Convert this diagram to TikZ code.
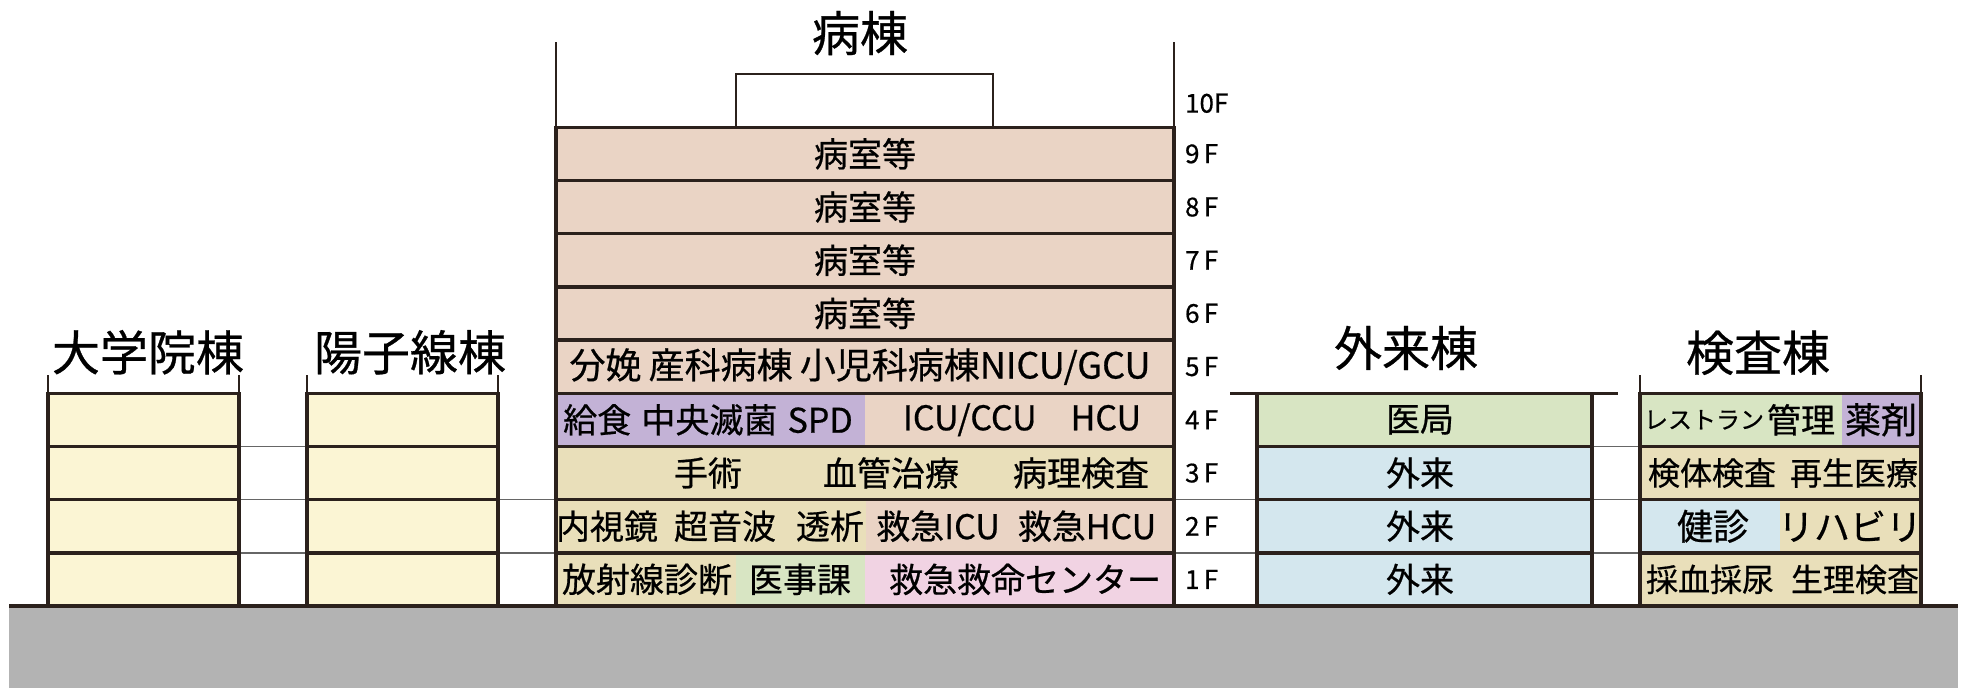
\documentclass[tikz,border=0pt]{standalone}
\usepackage{fontspec}
\setmainfont{Noto Sans CJK JP}[FakeBold=0.6, AutoFakeBold=0.6]

\definecolor{trait}{HTML}{2B211C}
\definecolor{chambre}{HTML}{EAD4C5}
\definecolor{lavande}{HTML}{C3B2D6}
\definecolor{kaki}{HTML}{E9DFBA}
\definecolor{vertclair}{HTML}{D8E5C3}
\definecolor{roseclair}{HTML}{F1D3E3}
\definecolor{bleuclair}{HTML}{D4E7EE}
\definecolor{jaunepale}{HTML}{FBF5D4}
\definecolor{sol}{HTML}{B3B3B3}

\begin{document}
\begin{tikzpicture}[x=0.5pt, y=26.6pt,
    salle/.style={font=\fontsize{17}{20}\selectfont},
    titre/.style={font=\fontsize{24}{28}\selectfont},
    etage/.style={anchor=west, font=\fontsize{13}{15}\selectfont},
    cadre/.style={draw=trait, line width=1.7pt},
    liaison/.style={draw=gray!80!black, line width=0.7pt}]

  \useasboundingbox (0,-1.5414) rectangle (1968,11.391);

  % Le sol.
  \fill[sol] (9,-1.5414) rectangle (1958,0);

  % Passerelles entre les bâtiments.
  \foreach \k in {1,2,3} {
    \draw[liaison] (239,\k) -- (307,\k);
    \draw[liaison] (1592,\k) -- (1640,\k);
  }
  \foreach \k in {1,2} {
    \draw[liaison] (498,\k) -- (556,\k);
    \draw[liaison] (1174,\k) -- (1257,\k);
  }

  % 大学院棟 et 陽子線棟 : quatre étages.
  \foreach \xa/\xb in {48/239, 307/498} {
    \foreach \k in {0,...,3}
      \filldraw[cadre, fill=jaunepale] (\xa,\k) rectangle (\xb,\k+1);
    \draw[trait, line width=1pt] (\xa,4) -- (\xa,4.34) (\xb,4) -- (\xb,4.34);
  }
  \node[titre] (daigakuin) at (148,4.77) {大学院棟};
  \node[titre] (yoshisen) at (410,4.77) {陽子線棟};

  % 病棟 : les couleurs d'abord, puis les contours.
  \fill[chambre] (556,4) rectangle (1174,9);
  \fill[lavande] (556,3) rectangle (865,4);
  \fill[chambre] (865,3) rectangle (1174,4);
  \fill[kaki] (556,2) rectangle (1174,3);
  \fill[kaki] (556,1) rectangle (866,2);
  \fill[chambre] (866,1) rectangle (1174,2);
  \fill[kaki] (556,0) rectangle (736,1);
  \fill[vertclair] (736,0) rectangle (865,1);
  \fill[roseclair] (865,0) rectangle (1174,1);
  \foreach \k in {0,...,8}
    \draw[cadre] (556,\k) rectangle (1174,\k+1);
  \draw[cadre, line width=1.2pt, fill=white] (736,9) rectangle (993,10);
  \draw[trait, line width=1pt] (556,9) -- (556,10.6) (1174,9) -- (1174,10.6);
  \node[titre] (byoto) at (860,10.77) {病棟};

  \foreach \k in {5,...,8}
    \node[salle] (byoshitsu\k) at (865,\k+0.5) {病室等};
  \node[salle, font=\fontsize{18}{20}\selectfont] (go) at (860,4.5)
       {分娩\hspace{0.2em}産科病棟\hspace{0.2em}小児科病棟NICU/GCU};
  \node[salle] (kyushoku) at (708,3.5) {給食\hspace{0.3em}中央滅菌\hspace{0.3em}SPD};
  \node[salle] (icu) at (1022,3.5) {ICU/CCU\hspace{1em}HCU};
  \node[salle] (shujutsu) at (708,2.5) {手術};
  \node[salle] (kekkan) at (891,2.5) {血管治療};
  \node[salle] (byori) at (1081,2.5) {病理検査};
  \node[salle] (naishi) at (607,1.5) {内視鏡};
  \node[salle] (choonpa) at (725,1.5) {超音波};
  \node[salle] (toseki) at (830,1.5) {透析};
  \node[salle] (kicu) at (938,1.5) {救急ICU};
  \node[salle] (khcu) at (1087,1.5) {救急HCU};
  \node[salle] (hoshasen) at (647,0.5) {放射線診断};
  \node[salle] (iji) at (800,0.5) {医事課};
  \node[salle] (kyumei) at (1025,0.5) {救急救命センター};

  % Numéros d'étage.
  \foreach \k in {1,...,9}
    \node[etage] (f\k) at (1178,\k-0.5) {\k\,F};
  \node[etage] (f10) at (1178,9.45) {10F};

  % 外来棟.
  \fill[vertclair] (1257,3) rectangle (1592,4);
  \fill[bleuclair] (1257,0) rectangle (1592,3);
  \foreach \k in {0,...,3}
    \draw[cadre] (1257,\k) rectangle (1592,\k+1);
  \draw[trait, line width=1.7pt] (1230,4) -- (1618,4);
  \node[titre] (gairaito) at (1406,4.85) {外来棟};
  \node[salle] (ikyoku) at (1420,3.5) {医局};
  \foreach \k in {0,1,2}
    \node[salle] (gairai\k) at (1420,\k+0.5) {外来};

  % 検査棟.
  \fill[vertclair] (1640,3) rectangle (1842,4);
  \fill[lavande] (1842,3) rectangle (1921,4);
  \fill[kaki] (1640,2) rectangle (1921,3);
  \fill[bleuclair] (1640,1) rectangle (1780,2);
  \fill[kaki] (1780,1) rectangle (1921,2);
  \fill[kaki] (1640,0) rectangle (1921,1);
  \foreach \k in {0,...,3}
    \draw[cadre] (1640,\k) rectangle (1921,\k+1);
  \draw[trait, line width=1pt] (1640,4) -- (1640,4.34) (1921,4) -- (1921,4.34);
  \node[titre] (kensato) at (1758,4.76) {検査棟};
  \node[font=\fontsize{12}{14}\selectfont] (restaurant) at (1704,3.5) {レストラン};
  \node[salle] (kanri) at (1801,3.5) {管理};
  \node[font=\fontsize{18}{20}\selectfont] (yakuzai) at (1881,3.5) {薬剤};
  \node[font=\fontsize{16}{19}\selectfont] (kentai) at (1712,2.5) {検体検査};
  \node[font=\fontsize{16}{19}\selectfont] (saisei) at (1854,2.5) {再生医療};
  \node[font=\fontsize{18}{20}\selectfont] (kenshin) at (1713,1.5) {健診};
  \node[font=\fontsize{18}{20}\selectfont] (riha) at (1850,1.5) {リハビリ};
  \node[font=\fontsize{16}{19}\selectfont] (saiketsu) at (1710,0.5) {採血採尿};
  \node[font=\fontsize{16}{19}\selectfont] (seiri) at (1855,0.5) {生理検査};

  % Ligne du sol.
  \draw[trait, line width=2pt] (9,0) -- (1958,0);

\end{tikzpicture}
\end{document}
